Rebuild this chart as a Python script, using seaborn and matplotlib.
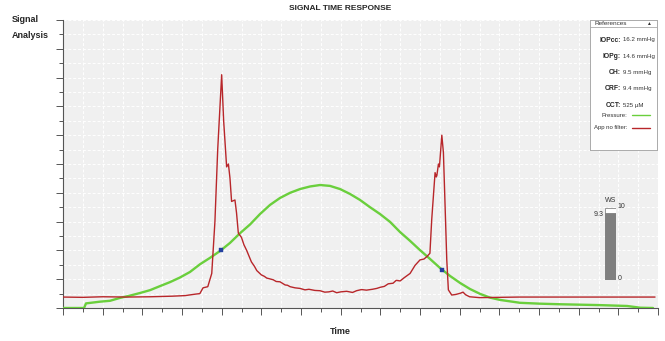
import numpy as np
import pandas as pd
import matplotlib
matplotlib.use("Agg")
import matplotlib.pyplot as plt
import seaborn as sns
from matplotlib.ticker import MultipleLocator

# --- data ---
red_t = [0, 10, 20, 32, 44, 55, 61.5, 66.6, 69, 70.6, 73, 75, 76.6, 78, 80, 81, 82.5, 83.4,
         84.2, 85, 86.7, 87.5, 88.4, 90, 91.2, 92.6, 95, 96.5, 97.7, 100, 101.5, 102.7, 106,
         107.5, 109.4, 112, 113.2, 114.5, 117, 119.5, 122, 124, 127, 129.6, 132, 134, 136,
         138, 140, 143, 146, 148, 150.5, 153, 156, 158.2, 160, 162, 164, 166.4, 168, 170, 172,
         175, 177.5, 180, 182, 183.4, 185, 185.9, 187.6, 188.2, 188.5, 189.3, 189.8, 191,
         191.8, 192.6, 193.5, 194.3, 196, 198, 200.2, 201.7, 203, 205, 210, 230, 260, 298.5]
red_v = [3.8, 3.7, 3.9, 3.8, 3.9, 4.1, 4.3, 4.8, 5.0, 7.0, 7.4, 12, 30, 55, 81, 65, 49, 50,
         45, 37, 37.5, 33, 26, 24.5, 22, 20, 16, 14.5, 13, 11.5, 11, 10.4, 9.8,
         9.2, 9.1, 8.0, 7.9, 7.4, 7.0, 6.8, 6.3, 6.5, 6.1, 6.0, 5.5, 5.6, 5.9,
         5.3, 5.6, 5.8, 5.4, 6.0, 6.4, 6.2, 6.5, 6.8, 7.2, 7.5, 8.4, 8.6, 9.6, 9.4, 10.5,
         12, 14.8, 16.7, 17.0, 17.8, 19, 30.6, 47, 45.5, 46, 50, 49, 60,
         54, 36.5, 16.7, 6.3, 4.5, 4.7, 5.1, 5.5, 4.6, 3.9, 3.6, 3.8, 3.8, 3.8]

green_t = [0, 10.6, 11.6, 18.7, 23.7, 28.7, 33.8, 38.8, 43.9, 48.9, 54.0, 59.0, 64.0, 69.1,
           74.1, 79.2, 84.2, 89.3, 94.3, 99.3, 104.4, 109.4, 114.5, 119.5, 124.6, 129.6,
           134.6, 139.7, 144.7, 149.8, 154.8, 159.9, 164.9, 169.9, 175.0, 180.0, 185.1,
           190.1, 195.2, 200.2, 205.2, 210.3, 215.3, 220.4, 230.5, 240.5, 250.6, 270.8,
           284.4, 291, 297.5]
green_v = [0, 0, 1.6, 2.2, 2.5, 3.5, 4.3, 5.2, 6.2, 7.6, 9.0, 10.6, 12.5, 15.2,
           17.4, 19.8, 22.6, 26.0, 29.0, 32.6, 35.8, 38.2, 40.0, 41.3, 42.2, 42.7,
           42.4, 41.3, 39.6, 37.5, 35.0, 32.6, 29.9, 26.4, 23.3, 20.1, 17.0,
           13.9, 11.1, 8.7, 6.6, 4.9, 3.6, 2.8, 1.8, 1.5, 1.3, 1.0,
           0.7, 0.1, 0]

marker_t = [79.7, 191]
marker_v = [20, 13.2]

ref_labels = ["IOPcc:", "IOPg:", "CH:", "CRF:", "CCT:"]
ref_values = ["16.2 mmHg", "14.6 mmHg", "9.5 mmHg", "9.4 mmHg", "525 \u00b5M"]
series_names = ["Pressure:", "App no filter:"]

ws_value = 9.3
ws_max = 10

RED = "#b8262a"
GREEN = "#6acf3c"
BLUE = "#2340a0"

sns.set_style("white", {"axes.facecolor": "#f0f0f0"})
plt.rcParams["font.family"] = ["Liberation Sans", "DejaVu Sans"]

W, H = 665, 341
fig = plt.figure(figsize=(W / 100, H / 100), dpi=100)


def px_axes(x0, y0, x1, y1):
    # axes from pixel box (top-left origin)
    return fig.add_axes([x0 / W, 1 - y1 / H, (x1 - x0) / W, (y1 - y0) / H])


ax = px_axes(63, 20, 658, 308)

red_df = pd.DataFrame({"t": red_t, "v": red_v})
green_df = pd.DataFrame({"t": green_t, "v": green_v})
sns.lineplot(data=green_df, x="t", y="v", ax=ax, color=GREEN, lw=1.7, zorder=3)
sns.lineplot(data=red_df, x="t", y="v", ax=ax, color=RED, lw=1.0, zorder=4)
sns.scatterplot(x=marker_t, y=marker_v, ax=ax, color=BLUE, marker="s", s=12,
                edgecolor=BLUE, zorder=5)

ax.set_xlim(0, 300)
ax.set_ylim(0, 100)
ax.xaxis.set_major_locator(MultipleLocator(20))
ax.xaxis.set_minor_locator(MultipleLocator(10))
ax.yaxis.set_major_locator(MultipleLocator(10))
ax.yaxis.set_minor_locator(MultipleLocator(5))
ax.set_xticklabels([])
ax.set_yticklabels([])
ax.tick_params(which="major", length=5, width=0.7, color="#555555", direction="out",
               bottom=True, left=True)
ax.tick_params(which="minor", length=3, width=0.7, color="#555555", direction="out",
               bottom=True, left=True)
ax.grid(which="both", color="white", linestyle=(0, (3, 2)), lw=0.7)
ax.set_axisbelow(True)
for s in ["top", "right"]:
    ax.spines[s].set_visible(False)
for s in ["left", "bottom"]:
    ax.spines[s].set_color("#555555")
    ax.spines[s].set_linewidth(0.8)
ax.set_xlabel("")
ax.set_ylabel("")

fig.text(340 / W, 1 - 9 / H, "SIGNAL TIME RESPONSE", ha="center", va="center",
         fontsize=6, fontweight="bold")
fig.text(12 / W, 1 - 19 / H, "Signal", ha="left", va="center", fontsize=6.5, fontweight="bold")
fig.text(12 / W, 1 - 36 / H, "Analysis", ha="left", va="center", fontsize=6.5, fontweight="bold")
fig.text(340 / W, 1 - 331 / H, "Time", ha="center", va="center", fontsize=6.5, fontweight="bold")

# references box
lg = px_axes(590, 20, 657, 150)
lg.set_facecolor("white")
lg.set_xlim(590, 657)
lg.set_ylim(150, 20)
lg.set_xticks([])
lg.set_yticks([])
for s in lg.spines.values():
    s.set_color("#aaaaaa")
    s.set_linewidth(0.7)
lg.axhline(27, color="#aaaaaa", lw=0.6)
lg.text(611, 23.5, "References", fontsize=4.6, ha="center", va="center", color="#333333")
lg.text(648, 23.5, "\u25b2", fontsize=3.5, ha="center", va="center", color="#333333")
for i, (lab, val) in enumerate(zip(ref_labels, ref_values)):
    y = 40 + i * 16.3
    lg.text(621, y, lab, fontsize=4.9, ha="right", va="center", fontweight="bold")
    lg.text(623, y, val, fontsize=4.4, ha="left", va="center", color="#333333")
for i, (name, col) in enumerate(zip(series_names, [GREEN, RED])):
    y = 115 + i * 12.5
    lg.text(627, y, name, fontsize=4.3, ha="right", va="center", color="#333333")
    lg.plot([632, 650], [y, y], color=col, lw=1.0)

# WS gauge
fig.text(610.7 / W, 1 - 200 / H, "WS", fontsize=5, ha="center", va="center", color="#333333")
fig.text(604 / W, 1 - 214 / H, f"{ws_value}", fontsize=5, ha="right", va="center", color="#333333")
fig.text(617.5 / W, 1 - 207 / H, f"{ws_max}", fontsize=5, ha="left", va="center", color="#333333")
fig.text(617.5 / W, 1 - 278 / H, "0", fontsize=5, ha="left", va="center", color="#333333")
ga = px_axes(605, 208, 616, 280)
ga.set_xlim(-0.5, 0.5)
ga.set_ylim(0, ws_max)
ga.bar([0], [ws_max], width=0.92, color="white", edgecolor="#888888", lw=0.6)
ga.bar([0], [ws_value], width=0.92, color="#7f7f7f", edgecolor="#7f7f7f", lw=0.6)
ga.axis("off")

fig.savefig("out.png", dpi=100)
